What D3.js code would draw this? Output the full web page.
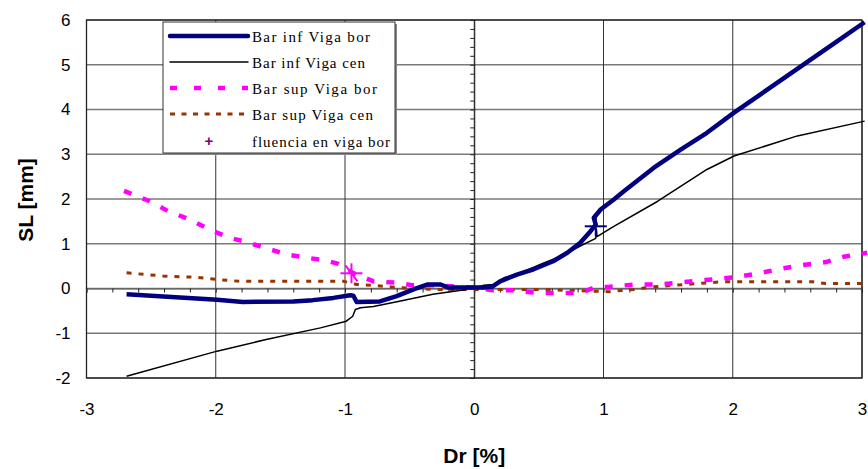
<!DOCTYPE html>
<html lang="es">
<head>
<meta charset="UTF-8"/>
<title>SL vs Dr</title>
<script src="https://d3js.org/d3.v7.min.js"></script>
<style>
	body { margin: 0; background: #FFFFFF; }
	svg { display: block; font-family: "Liberation Sans", Arial, sans-serif; }
	.legend text { font-family: "Liberation Serif", "DejaVu Serif", serif; font-size: 15px; fill: #000; }
</style>
</head>
<body>
<div id="chart"></div>
<script>
	// Values, [Dr %, SL mm]
	var barInfBor = [
		[-2.69,-0.13],[-1.99,-0.25],[-1.79,-0.30],[-1.40,-0.29],[-1.25,-0.26],[-1.09,-0.21],
		[-0.96,-0.15],[-0.935,-0.16],[-0.91,-0.30],[-0.73,-0.29],[-0.60,-0.17],[-0.47,-0.02],
		[-0.36,0.09],[-0.26,0.09],[-0.20,0.02],[-0.06,0.02],[0.06,0.02],[0.14,0.04],
		[0.20,0.16],[0.33,0.31],[0.46,0.43],[0.61,0.61],[0.72,0.80],[0.82,1.02],
		[0.90,1.28],[0.94,1.43],[0.925,1.58],[0.98,1.77],[1.08,1.99],[1.16,2.18],
		[1.39,2.70],[1.60,3.11],[1.80,3.48],[2.01,3.93],[2.27,4.45],[2.53,4.97],
		[2.79,5.49],[3.02,5.95]
	];
	var barInfCen = [
		[-2.69,-1.96],[-1.99,-1.40],[-1.61,-1.14],[-1.19,-0.88],[-0.99,-0.73],[-0.94,-0.62],
		[-0.92,-0.47],[-0.88,-0.43],[-0.78,-0.40],[-0.57,-0.28],[-0.32,-0.13],[-0.06,-0.02],
		[0.07,0.07],[0.15,0.09],[0.23,0.24],[0.36,0.35],[0.51,0.54],[0.67,0.72],
		[0.82,0.95],[0.94,1.12],[0.945,1.32],[0.95,1.16],[1.08,1.39],[1.42,1.95],
		[1.80,2.66],[2.01,2.96],[2.50,3.41],[3.02,3.74]
	];
	var barSupBor = [
		[-2.71,2.18],[-2.51,1.95],[-2.37,1.73],[-2.20,1.54],[-2.05,1.32],[-1.89,1.13],
		[-1.79,1.06],[-1.62,0.91],[-1.45,0.76],[-1.30,0.69],[-1.14,0.62],[-1.05,0.55],
		[-0.94,0.35],[-0.78,0.16],[-0.61,0.13],[-0.47,0.07],[-0.32,0.07],[-0.13,0.04],
		[0.00,0.02],[0.15,-0.04],[0.30,-0.04],[0.49,-0.10],[0.64,-0.10],[0.82,-0.10],
		[0.93,0.02],[1.05,0.04],[1.24,0.09],[1.42,0.09],[1.58,0.13],[1.75,0.18],
		[1.91,0.22],[2.04,0.26],[2.22,0.35],[2.37,0.44],[2.53,0.52],[2.72,0.59],
		[2.86,0.71],[3.04,0.80]
	];
	var barSupCen = [
		[-2.69,0.35],[-2.41,0.28],[-2.15,0.25],[-1.99,0.20],[-1.81,0.16],[-1.01,0.16],
		[-0.91,0.09],[-0.78,0.07],[-0.57,0.02],[-0.32,-0.02],[0.00,-0.02],[0.50,-0.02],
		[0.93,-0.06],[1.04,-0.07],[1.16,-0.04],[1.25,-0.02],[1.35,0.03],[1.53,0.07],
		[1.73,0.11],[1.91,0.15],[2.62,0.15],[2.72,0.11],[3.00,0.11]
	];
	// yield points (fluencia)
	var fluencia = [[-0.95,0.34],[0.94,1.39]];

	var xTicks = [-3,-2,-1,0,1,2,3];
	var yTicks = [-2,-1,0,1,2,3,4,5,6];
	var legendNames = ["Bar inf Viga bor","Bar inf Viga cen","Bar sup Viga bor","Bar sup Viga cen","fluencia en viga bor"];

	var w = 868, h = 469;
	var pLeft = 86.5, pRight = 862, pTop = 20, pBottom = 378;

	var xScale = d3.scaleLinear().domain([-3,3]).range([pLeft,pRight]);
	var yScale = d3.scaleLinear().domain([-2,6]).range([pBottom,pTop]);

	var svg = d3.select("#chart").append("svg")
		.attr("width", w)
		.attr("height", h);

	// gridlines
	svg.append("g").selectAll("line")
		.data(yTicks)
		.enter().append("line")
		.attr("x1", pLeft).attr("x2", pRight)
		.attr("y1", d => yScale(d)).attr("y2", d => yScale(d))
		.attr("stroke", "#7a7a7a").attr("stroke-width", 1.4);
	svg.append("g").selectAll("line")
		.data(xTicks)
		.enter().append("line")
		.attr("y1", pTop).attr("y2", pBottom)
		.attr("x1", d => xScale(d)).attr("x2", d => xScale(d))
		.attr("stroke", "#333").attr("stroke-width", 1);

	// frame
	svg.append("rect")
		.attr("x", pLeft).attr("y", pTop)
		.attr("width", pRight - pLeft).attr("height", pBottom - pTop)
		.attr("fill", "none").attr("stroke", "#222").attr("stroke-width", 1.3);

	// axes through the origin, minor ticks each 0.2
	var minor = d3.range(-15, 16).map(d => d / 5);
	var minorY = d3.range(-10, 31).map(d => d / 5);
	svg.append("g")
		.attr("transform", "translate(0," + yScale(0) + ")")
		.call(d3.axisBottom(xScale).tickValues(minor).tickSize(4).tickFormat(""))
		.call(g => g.select(".domain").attr("stroke", "#555"))
		.call(g => g.selectAll(".tick line").attr("stroke", "#222"));
	svg.append("g")
		.attr("transform", "translate(" + xScale(0) + ",0)")
		.call(d3.axisLeft(yScale).tickValues(minorY).tickSize(4).tickFormat(""))
		.call(g => g.select(".domain").attr("stroke", "#222"))
		.call(g => g.selectAll(".tick line").attr("stroke", "#222"));

	// tick labels
	svg.append("g")
		.attr("transform", "translate(" + pLeft + ",0)")
		.call(d3.axisLeft(yScale).tickValues(yTicks).tickSize(0).tickPadding(16).tickFormat(d => String(d)))
		.call(g => g.select(".domain").remove())
		.selectAll("text").attr("font-size", "17px").attr("fill", "#000")
		.attr("font-family", "Liberation Sans, Arial, sans-serif");
	svg.append("g")
		.attr("transform", "translate(0," + pBottom + ")")
		.call(d3.axisBottom(xScale).tickValues(xTicks).tickSize(0).tickPadding(25).tickFormat(d => String(d)))
		.call(g => g.select(".domain").remove())
		.selectAll("text").attr("font-size", "17px").attr("fill", "#000")
		.attr("font-family", "Liberation Sans, Arial, sans-serif");

	// axis titles
	svg.append("text")
		.attr("text-anchor", "middle")
		.attr("transform", "translate(33,200) rotate(-90)")
		.attr("font-size", "21px").attr("font-weight", "bold")
		.text("SL [mm]");
	svg.append("text")
		.attr("text-anchor", "middle")
		.attr("x", xScale(0)).attr("y", 463)
		.attr("font-size", "21px").attr("font-weight", "bold")
		.text("Dr [%]");

	var line = d3.line().x(d => xScale(d[0])).y(d => yScale(d[1]));

	var series = [
		{data: barSupCen, color: "#993300", width: 3, dash: "5,7"},
		{data: barInfCen, color: "#000000", width: 1.5, dash: null},
		{data: barSupBor, color: "#FF00FF", width: 4.5, dash: "8,12"},
		{data: barInfBor, color: "#000080", width: 4.5, dash: null}
	];
	series.forEach(function(s) {
		svg.append("path")
			.datum(s.data)
			.attr("d", line)
			.attr("fill", "none")
			.attr("stroke", s.color)
			.attr("stroke-width", s.width)
			.attr("stroke-dasharray", s.dash)
			.attr("stroke-linejoin", "round");
	});

	// fluencia markers: asterisk on the magenta curve, cross on the navy one
	var markColors = ["#FF00FF", "#000080"];
	fluencia.forEach(function(p, i) {
		var g = svg.append("g")
			.attr("transform", "translate(" + xScale(p[0]) + "," + yScale(p[1]) + ")")
			.attr("stroke", markColors[i]).attr("stroke-width", 2);
		g.append("line").attr("x1", -11).attr("x2", 11).attr("y1", 0).attr("y2", 0);
		g.append("line").attr("x1", 0).attr("x2", 0).attr("y1", -10).attr("y2", 10);
		if (i === 0) {
			g.append("line").attr("x1", -6).attr("x2", 6).attr("y1", -8).attr("y2", 8);
		}
	});

	// legend
	var lg = svg.append("g").attr("class", "legend");
	lg.append("rect")
		.attr("x", 165).attr("y", 24).attr("width", 232).attr("height", 131)
		.attr("fill", "#888");
	lg.append("rect")
		.attr("x", 163).attr("y", 22).attr("width", 232).attr("height", 131)
		.attr("fill", "#fff").attr("stroke", "#333").attr("stroke-width", 1);

	var rowY = [36, 62, 88, 114, 141];
	var legendStyles = [
		{color: "#000080", width: 4.5, dash: null},
		{color: "#000000", width: 1.5, dash: null},
		{color: "#FF00FF", width: 4.5, dash: "7,17"},
		{color: "#993300", width: 3, dash: "5,6.5"}
	];
	var textWidths = [118, 113, 125, 121, 138];
	legendStyles.forEach(function(s, i) {
		lg.append("line")
			.attr("x1", 170).attr("x2", 248)
			.attr("y1", rowY[i]).attr("y2", rowY[i])
			.attr("stroke", s.color).attr("stroke-width", s.width)
			.attr("stroke-dasharray", s.dash)
			.attr("stroke-linecap", s.dash ? "butt" : "round");
	});
	lg.append("text")
		.attr("x", 209).attr("y", rowY[4] + 5)
		.attr("text-anchor", "middle")
		.style("font-family", "Liberation Sans, Arial, sans-serif")
		.style("font-size", "15px")
		.style("fill", "#800080")
		.style("font-weight", "bold")
		.text("+");
	legendNames.forEach(function(n, i) {
		lg.append("text")
			.attr("x", 252).attr("y", rowY[i] + 6)
			.attr("textLength", textWidths[i])
			.attr("lengthAdjust", "spacing")
			.text(n);
	});
</script>
</body>
</html>
